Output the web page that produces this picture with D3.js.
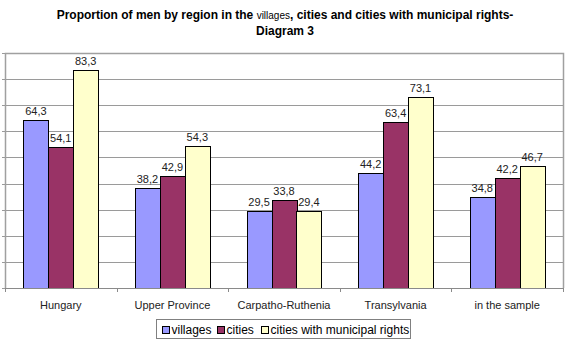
<!DOCTYPE html>
<html><head><meta charset="utf-8">
<script src="https://cdn.jsdelivr.net/npm/d3@7"></script>
<style>body{margin:0;background:#fff}svg{display:block;font-family:Arial,"Liberation Sans",sans-serif}</style>
</head><body><svg id="c" width="570" height="343"></svg>
<script>
const categories = ["Hungary","Upper Province","Carpatho-Ruthenia","Transylvania","in the sample"];
const seriesNames = ["villages","cities","cities with municipal rights"];
const villages = [64.3,38.2,29.5,44.2,34.8];
const cities = [54.1,42.9,33.8,63.4,42.2];
const municipal = [83.3,54.3,29.4,73.1,46.7];
const yTicks = [0,10,20,30,40,50,60,70,80,90];
const colors = ["#9999FF","#993366","#FFFFCC"];

const series = [villages, cities, municipal];
const svg = d3.select("#c");
const L=5, R=563, T=53, B=288;
const x = d3.scaleBand().domain(categories).range([L,R]).paddingInner(0.33).paddingOuter(0.165);
const x0 = d3.scaleBand().domain(categories).range([L,R]);
const xs = d3.scaleBand().domain(seriesNames).range([0,x.bandwidth()]);
const y = d3.scaleLinear().domain([0,90]).range([B,T]);

// gridlines
svg.append("g").selectAll("line").data(yTicks.slice(1)).join("line")
  .attr("x1",L).attr("x2",R).attr("y1",d=>Math.round(y(d))+0.5).attr("y2",d=>Math.round(y(d))+0.5)
  .attr("stroke","#9a9a9a").attr("stroke-width",1);
// left axis ticks
svg.append("g").selectAll("line").data(yTicks).join("line")
  .attr("x1",L-3).attr("x2",L).attr("y1",d=>Math.round(y(d))+0.5).attr("y2",d=>Math.round(y(d))+0.5)
  .attr("stroke","#9a9a9a");
// border lines (top, right, left)
svg.append("path").attr("d",`M${L+0.5},${B}V${T+0.5}H${R+0.5}V${B}`).attr("fill","none").attr("stroke","#a0a0a0").attr("stroke-width",1.5);

// bars
const g = svg.append("g");
categories.forEach((c,i)=>{
  series.forEach((s,j)=>{
    const bx = x(c)+xs(seriesNames[j]);
    g.append("rect").attr("x",Math.round(bx)+0.5).attr("y",Math.round(y(s[i]))+0.5)
      .attr("width",Math.round(xs.bandwidth())).attr("height",Math.round(B-y(s[i])))
      .attr("fill",colors[j]).attr("stroke","#000").attr("stroke-width",1);
    g.append("text").attr("x",bx+xs.bandwidth()/2).attr("y",y(s[i])-5)
      .attr("text-anchor","middle").attr("font-size",11).attr("fill","#222")
      .text(String(s[i].toFixed(1)).replace(".",","));
  });
});

// bottom axis
const ag = svg.append("g").attr("transform",`translate(0,${B})`);
ag.append("line").attr("x1",L).attr("x2",R+1).attr("y1",0.5).attr("y2",0.5).attr("stroke","#8a8a8a");
ag.selectAll("line.t").data(categories.concat(["end"])).join("line").attr("class","t")
  .attr("x1",(d,i)=>Math.round(L+i*x0.bandwidth())+0.5).attr("x2",(d,i)=>Math.round(L+i*x0.bandwidth())+0.5)
  .attr("y1",0).attr("y2",4).attr("stroke","#8a8a8a");
ag.selectAll("text").data(categories).join("text")
  .attr("x",d=>x0(d)+x0.bandwidth()/2).attr("y",20.5).attr("text-anchor","middle")
  .attr("font-size",11).attr("fill","#222").text(d=>d);

// title
const t = svg.append("text").attr("text-anchor","middle").attr("font-weight","bold").attr("font-size",12).attr("fill","#000");
t.append("tspan").attr("x",285).attr("y",19).text("Proportion of men by region in the ");
t.append("tspan").attr("font-size",10).attr("font-weight","normal").text("villages");
t.append("tspan").text(", cities and cities with municipal rights-");
svg.append("text").attr("x",285).attr("y",35).attr("text-anchor","middle").attr("font-weight","bold").attr("font-size",12).text("Diagram 3");

// legend
const lg = svg.append("g");
lg.append("rect").attr("x",156.5).attr("y",319.5).attr("width",254).attr("height",19).attr("fill","#fff").attr("stroke","#808080");
const legendX = [162, 217, 261];
seriesNames.forEach((n,j)=>{
  const cx = legendX[j];
  const item = lg.append("g");
  item.append("rect").attr("x",cx+0.5).attr("y",326.5).attr("width",7).attr("height",7).attr("fill",colors[j]).attr("stroke","#000");
  item.append("text").attr("x",cx+9.5).attr("y",333.5).attr("font-size",12).attr("fill","#000").text(n);
});
</script></body></html>
